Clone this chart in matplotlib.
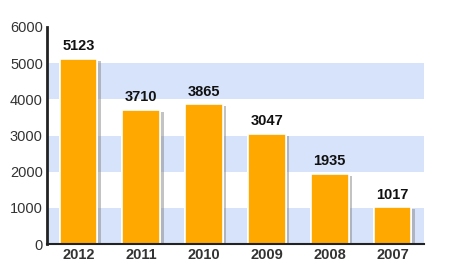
import matplotlib
matplotlib.use("Agg")
import matplotlib.pyplot as plt
import matplotlib.patheffects as pe

years = ["2012", "2011", "2010", "2009", "2008", "2007"]
values = [5123, 3710, 3865, 3047, 1935, 1017]
yticks = [0, 1000, 2000, 3000, 4000, 5000, 6000]
bands = [(0, 1000), (2000, 3000), (4000, 5000)]

plt.rcParams['font.family'] = ['Liberation Sans', 'DejaVu Sans']
fig = plt.figure(figsize=(4.51, 2.76), dpi=100)
ax = fig.add_axes([47/451, 1-244/276, (424-47)/451, (244-27)/276])

for lo, hi in bands:
    ax.axhspan(lo, hi, color='#d6e3fb', lw=0, zorder=0)

x = list(range(len(years)))
w = 0.6
ax.bar(x, values, width=w, color='#ffa800', edgecolor='white', linewidth=1.2, zorder=2,
       path_effects=[pe.withSimplePatchShadow(offset=(2.5, -1.5), shadow_rgbFace='#888888', alpha=0.5),
                     pe.Normal()])
for xi, v in zip(x, values):
    ax.annotate(str(v), (xi, v), xytext=(0, 4), textcoords='offset points',
                ha='center', va='bottom', fontsize=10.5,
                fontweight='bold', color='#111111')

ax.set_xlim(-0.5, 5.5)
ax.set_ylim(0, 6000)
ax.set_yticks(yticks)
ax.set_yticklabels([str(t) for t in yticks], fontsize=10.5, color='#333333')
ax.set_xticks(x)
ax.set_xticklabels(years, fontsize=10.5, fontweight='bold', color='#333333')
ax.tick_params(axis='both', length=0, pad=3)
for s in ['top', 'right']:
    ax.spines[s].set_visible(False)
ax.spines['left'].set_linewidth(2)
ax.spines['left'].set_color('#222222')
ax.spines['bottom'].set_linewidth(1.5)
ax.spines['bottom'].set_color('#222222')
ax.set_facecolor('white')

fig.savefig('out.png', dpi=100)
